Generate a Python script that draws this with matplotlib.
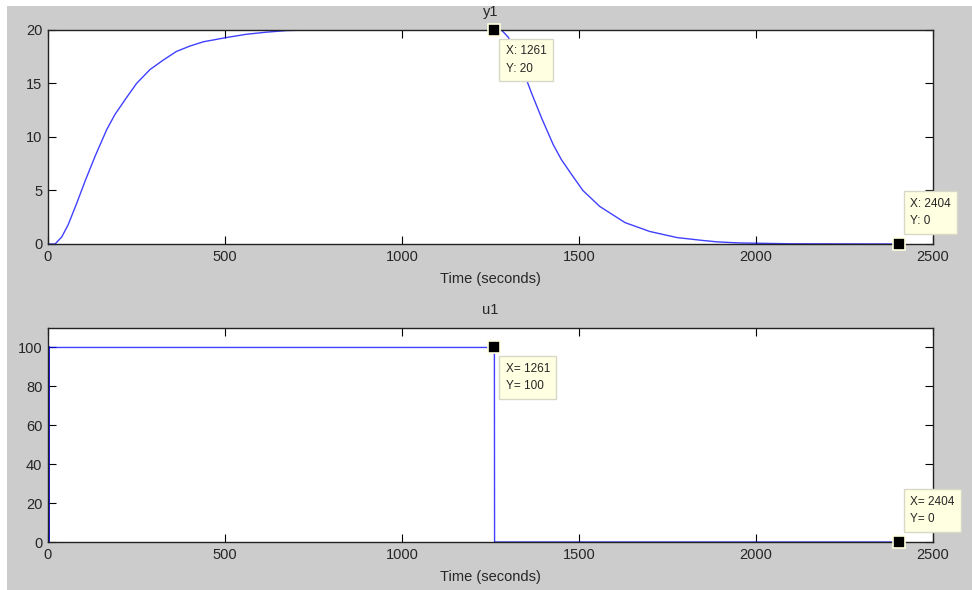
import matplotlib.pyplot as plt
from matplotlib.patches import Rectangle

# y1 response: rise while u1 = 100, then decay after the input switches off
t_rise = [0, 20, 39, 57, 81, 105, 133, 166, 189, 218, 250, 288, 326, 363, 401, 439,
          505, 560, 618, 675, 750, 1000, 1261]
y_rise = [0, 0, 0.67, 1.8, 3.8, 5.9, 8.2, 10.7, 12.1, 13.5, 15.0, 16.3, 17.2, 18.0, 18.5, 18.9,
          19.3, 19.6, 19.8, 19.95, 20, 20, 20]
t_fall = [1281, 1300, 1318, 1342, 1366, 1394, 1427, 1450, 1479, 1511, 1559, 1630, 1700,
          1777, 1850, 1890, 1950, 2100, 2404]
y_fall = [20, 19.33, 18.2, 16.2, 14.1, 11.8, 9.3, 7.9, 6.5, 5.0, 3.5, 2.0, 1.17,
          0.6, 0.33, 0.2, 0.1, 0.02, 0]

# u1 input signal
t_u = [0, 0.5, 1261, 1261.5, 2404]
u_vals = [0, 100, 100, 0, 0]

# data tips: (x, y, text, placed below-right?)
tips_y = [(1261, 20, 'X: 1261\nY: 20', True), (2404, 0, 'X: 2404\nY: 0', False)]
tips_u = [(1261, 100, 'X= 1261\nY= 100', True), (2404, 0, 'X= 2404\nY= 0', False)]

plt.rcParams['font.family'] = ['Liberation Sans', 'DejaVu Sans']
txt = '#262626'

fig = plt.figure(figsize=(9.72, 5.90), dpi=100)
fig.patch.set_facecolor('white')
fig.patches.append(Rectangle((7 / 972, 0), 1, 1 - 6 / 590, transform=fig.transFigure,
                             facecolor='#cccccc', edgecolor='none', zorder=-10))

ax1 = fig.add_axes([48 / 972, 1 - 244 / 590, 885 / 972, 214 / 590])
ax2 = fig.add_axes([48 / 972, 1 - 542 / 590, 885 / 972, 214 / 590])

ax1.plot(t_rise + t_fall, y_rise + y_fall, color='#0000ff', lw=1, alpha=0.75)
ax1.set_xlim(0, 2500)
ax1.set_ylim(0, 20)
ax1.set_yticks([0, 5, 10, 15, 20])
ax1.set_title('y1', fontsize=10.5, color=txt, pad=10)

ax2.plot(t_u, u_vals, color='#0000ff', lw=1, alpha=0.75)
ax2.plot([0, 0], [0, 100], color='#0000ff', lw=2)
ax2.set_xlim(0, 2500)
ax2.set_ylim(0, 110)
ax2.set_yticks([0, 20, 40, 60, 80, 100])
ax2.set_title('u1', fontsize=10.5, color=txt, pad=10)

for ax, tips in ((ax1, tips_y), (ax2, tips_u)):
    ax.set_xticks([0, 500, 1000, 1500, 2000, 2500])
    ax.set_xlabel('Time (seconds)', fontsize=10.5, color=txt, labelpad=6)
    ax.tick_params(direction='in', top=True, right=True, length=6, width=0.8,
                   labelsize=10.5, labelcolor=txt, pad=4)
    for s in ax.spines.values():
        s.set_linewidth(1)
        s.set_color('#222222')
    for x, y, label, below in tips:
        ax.plot(x, y, marker='s', ms=8, mfc='black', mec='#ffffe0', mew=1.2,
                clip_on=False, zorder=6)
        if below:
            off, va = (8, -11), 'top'
        else:
            off, va = (8, 12), 'bottom'
        ax.annotate(label, xy=(x, y), xytext=off, textcoords='offset points',
                    ha='left', va=va, fontsize=8.5, color=txt, linespacing=1.6,
                    bbox=dict(boxstyle='square,pad=0.55', fc='#ffffe1', ec='#d8d8c8', lw=1),
                    zorder=7, annotation_clip=False)

fig.savefig('out.png', dpi=100)
